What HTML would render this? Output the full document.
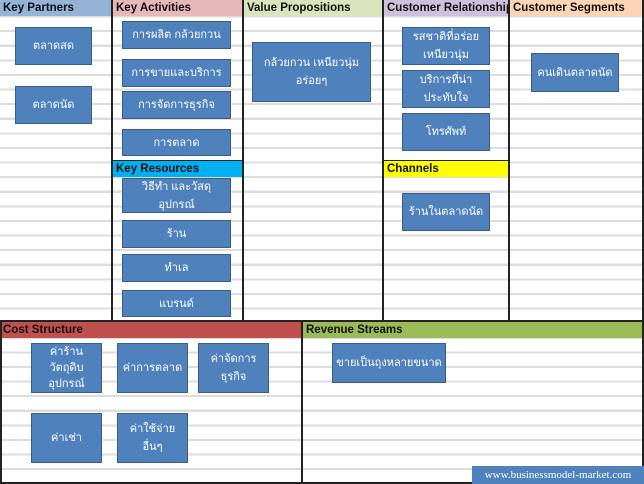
<!DOCTYPE html>
<html><head><meta charset="utf-8"><style>
*{margin:0;padding:0;box-sizing:border-box}
body{width:644px;height:484px;position:relative;overflow:hidden;background:#fff;font-family:"Liberation Sans","Noto Sans CJK SC",sans-serif}
.grid{position:absolute;left:0;top:0;width:644px;height:484px;background:repeating-linear-gradient(to bottom,transparent 0,transparent 12.5px,#dcdcdc 12.5px,#dcdcdc 14.6px);background-position:0 3px}
.h{position:absolute;height:16px;font-weight:bold;font-size:11.5px;line-height:16px;padding-left:3px;color:#111;white-space:nowrap;overflow:hidden}
.v{position:absolute;width:2px;background:#222}
.hl{position:absolute;height:2px;background:#222}
.b{position:absolute;background:#4f81bd;border:1.5px solid #385d8a;color:#fff;font-size:11px;display:flex;align-items:center;justify-content:center;text-align:center;line-height:18px;font-family:"Liberation Sans","Noto Sans CJK SC",sans-serif}
</style></head><body>
<div class="grid"></div>
<div class="h" style="left:0;top:0;width:111px;background:#95b3d7">Key Partners</div>
<div class="h" style="left:113px;top:0;width:129px;background:#e6b8b7">Key Activities</div>
<div class="h" style="left:244px;top:0;width:138px;background:#d7e4bc">Value Propositions</div>
<div class="h" style="left:384px;top:0;width:124px;background:#ccc0da">Customer Relationship</div>
<div class="h" style="left:510px;top:0;width:134px;background:#fcd5b4">Customer Segments</div>
<div class="h" style="left:113px;top:161px;width:129px;background:#00b0f0">Key Resources</div>
<div class="h" style="left:384px;top:161px;width:124px;background:#ffff00">Channels</div>
<div class="h" style="left:0;top:322px;width:301px;background:#c0504d">Cost Structure</div>
<div class="h" style="left:303px;top:322px;width:341px;background:#9bbb59">Revenue Streams</div>
<div class="v" style="left:111px;top:0;height:322px"></div>
<div class="v" style="left:242px;top:0;height:322px"></div>
<div class="v" style="left:382px;top:0;height:322px"></div>
<div class="v" style="left:508px;top:0;height:322px"></div>
<div class="v" style="left:642px;top:0;height:484px"></div>
<div class="v" style="left:301px;top:321px;height:163px"></div>
<div class="v" style="left:0;top:321px;height:163px"></div>
<div class="hl" style="left:0;top:320px;width:644px"></div>
<div class="hl" style="left:0;top:482px;width:644px"></div>
<div class="hl" style="left:113px;top:160px;width:129px;height:1px"></div>
<div class="hl" style="left:384px;top:160px;width:124px;height:1px"></div>

<div class="b" style="left:15px;top:27px;width:77px;height:38px">ตลาดสด</div>
<div class="b" style="left:15px;top:86px;width:77px;height:38px">ตลาดนัด</div>
<div class="b" style="left:122px;top:21px;width:109px;height:28px">การผลิต กล้วยกวน</div>
<div class="b" style="left:122px;top:59px;width:109px;height:28px">การขายและบริการ</div>
<div class="b" style="left:122px;top:91px;width:109px;height:28px">การจัดการธุรกิจ</div>
<div class="b" style="left:122px;top:129px;width:109px;height:27px">การตลาด</div>
<div class="b" style="left:122px;top:178px;width:109px;height:35px">วิธีทำ และวัสดุ<br>อุปกรณ์</div>
<div class="b" style="left:122px;top:220px;width:109px;height:28px">ร้าน</div>
<div class="b" style="left:122px;top:254px;width:109px;height:28px">ทำเล</div>
<div class="b" style="left:122px;top:290px;width:109px;height:27px">แบรนด์</div>
<div class="b" style="left:252px;top:42px;width:119px;height:60px">กล้วยกวน เหนียวนุ่ม<br>อร่อยๆ</div>
<div class="b" style="left:402px;top:27px;width:88px;height:38px">รสชาติที่อร่อย<br>เหนียวนุ่ม</div>
<div class="b" style="left:402px;top:70px;width:88px;height:38px">บริการที่น่า<br>ประทับใจ</div>
<div class="b" style="left:402px;top:113px;width:88px;height:38px">โทรศัพท์</div>
<div class="b" style="left:402px;top:193px;width:88px;height:38px">ร้านในตลาดนัด</div>
<div class="b" style="left:531px;top:53px;width:88px;height:39px">คนเดินตลาดนัด</div>
<div class="b" style="left:31px;top:343px;width:71px;height:50px;line-height:16px">ค่าร้าน<br>วัตถุดิบ<br>อุปกรณ์</div>
<div class="b" style="left:117px;top:343px;width:71px;height:50px">ค่าการตลาด</div>
<div class="b" style="left:198px;top:343px;width:71px;height:50px">ค่าจัดการ<br>ธุรกิจ</div>
<div class="b" style="left:31px;top:413px;width:71px;height:50px">ค่าเช่า</div>
<div class="b" style="left:117px;top:413px;width:71px;height:50px">ค่าใช้จ่าย<br>อื่นๆ</div>
<div class="b" style="left:332px;top:343px;width:114px;height:40px">ขายเป็นถุงหลายขนาด</div>
<div class="b" style="left:472px;top:466px;width:172px;height:18px;font-family:'Liberation Serif',serif;font-size:11px;border:none;background:#4f81bd">www.businessmodel-market.com</div>
</body></html>
